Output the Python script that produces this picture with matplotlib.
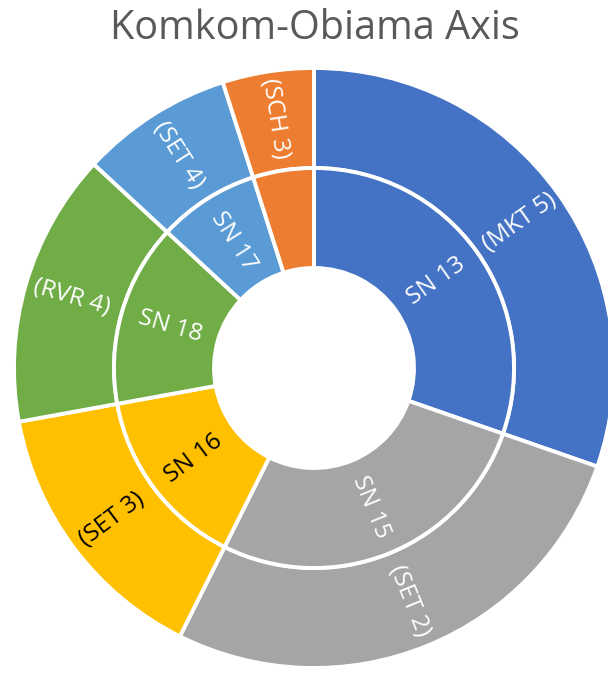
import numpy as np
import matplotlib
matplotlib.use('Agg')
import matplotlib.pyplot as plt

# sunburst data: inner ring (parents) and outer ring (one child each)
inner_labels = ['SN 13', 'SN 15', 'SN 16', 'SN 18', 'SN 17', 'SCH 3']
outer_labels = ['(MKT 5)', '(SET 2)', '(SET 3)', '(RVR 4)', '(SET 4)', '(SCH 3)']
values = [37, 33, 18, 18, 10, 6]
colors = ['#4472C4', '#A5A5A5', '#FFC000', '#70AD47', '#5B9BD5', '#ED7D31']
text_colors = ['white', 'white', 'black', 'white', 'white', 'white']

plt.rcParams['font.family'] = ['Open Sans', 'DejaVu Sans']

fig = plt.figure(figsize=(6.08, 6.75), dpi=100)
fig.set_facecolor('white')
ax = fig.add_axes([0, 0, 1, 1])

wp = dict(width=1/3, edgecolor='white', linewidth=2.8)

# outer ring
ax.pie(values, radius=1.0, colors=colors, startangle=90, counterclock=False,
       wedgeprops=wp)
# inner ring
ax.pie(values, radius=2/3, colors=colors, startangle=90, counterclock=False,
       wedgeprops=wp)

total = float(sum(values))
cum = np.cumsum([0] + values[:-1])
for i, v in enumerate(values):
    mid = 90 - 360 * (cum[i] + v / 2) / total   # math angle, degrees
    rad = np.deg2rad(mid)
    rot = mid
    if np.cos(rad) < 0:
        rot = mid + 180
    if rot > 180:
        rot -= 360
    # inner ring label (the small orange parent has none)
    if i < 5:
        r = 0.5
        ax.text(r * np.cos(rad), r * np.sin(rad), inner_labels[i], color=text_colors[i],
                fontsize=17.5, rotation=rot, rotation_mode='anchor',
                ha='center', va='center')
    # outer ring label
    r = 0.84
    ax.text(r * np.cos(rad), r * np.sin(rad), outer_labels[i], color=text_colors[i],
            fontsize=17.5, rotation=rot, rotation_mode='anchor',
            ha='center', va='center')

# center of the rings sits at (314, 368) px, radius 300 px
ax.set_xlim(-314 / 300, (608 - 314) / 300)
ax.set_ylim(-(675 - 368) / 300, 368 / 300)
ax.set_aspect('equal')
ax.axis('off')

fig.text(314.5 / 608, 1 - 39 / 675, 'Komkom-Obiama Axis', ha='center', va='baseline',
         fontsize=28.5, color='#595959')

fig.savefig('out.png', dpi=100)
